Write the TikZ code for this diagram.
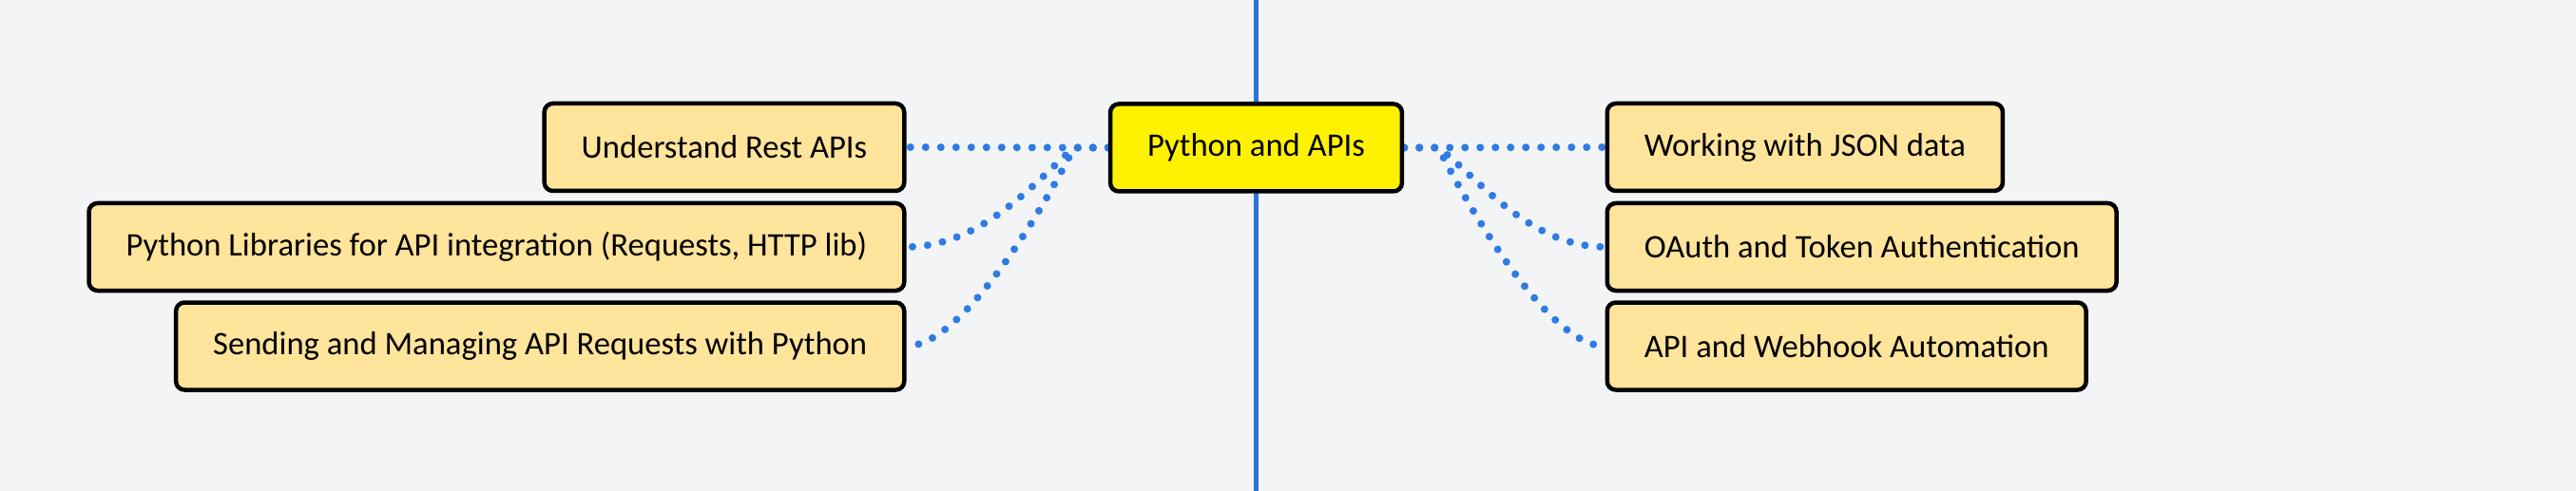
\documentclass[tikz,border=0pt]{standalone}
\usepackage{fontspec}
\setmainfont{Carlito}
\usetikzlibrary{positioning}
\usetikzlibrary{backgrounds}
\definecolor{bgcol}{HTML}{F3F4F6}
\definecolor{boxcol}{HTML}{FFE49B}
\definecolor{linkcol}{HTML}{2F7BE5}
\definecolor{axiscol}{HTML}{2E74D6}
\tikzstyle{topic}=[rectangle,rounded corners=0.09cm,draw=black,line width=0.045cm,fill=boxcol,minimum height=0.92cm,inner xsep=0.39cm,font=\fontsize{9.85pt}{12pt}\selectfont]
\tikzstyle{maintopic}=[topic,fill=yellow,minimum width=3.05cm]
\tikzstyle{link}=[draw,linkcol,line width=0.08cm,line cap=round,dash pattern=on 0pt off 0.16cm]
\tikzstyle{axis}=[draw,axiscol,line width=0.05cm]

\begin{document}
\begin{tikzpicture}
   \useasboundingbox (0,0) rectangle (27.10,-5.17);

   % vertical guide behind the main topic
   \coordinate (axistop) at (13.215,0);
   \coordinate (axisbot) at (13.215,-5.17);
   \path[axis] (axistop) -- (axisbot);

   \node[maintopic] (python) at (13.215,-1.555) {Python and APIs};

   \foreach \pos/\name/\label in {{(9.535,-1.55)/rest/{Understand Rest APIs}}, {(9.535,-2.60)/pylib/{Python Libraries for API integration (Requests, HTTP lib)}}, {(9.535,-3.645)/sending/{Sending and Managing API Requests with Python}}}
        \node[topic,anchor=east] (\name) at \pos {\label};

   \foreach \pos/\name/\label in {{(16.885,-1.55)/json/{Working with JSON data}}, {(16.885,-2.60)/oauth/{OAuth and Token Authentication}}, {(16.885,-3.645)/webhook/{API and Webhook Automation}}}
        \node[topic,anchor=west] (\name) at \pos {\label};

   % connect the topics to the centre
   \begin{scope}[on background layer]
   \fill[bgcol] (0,0) rectangle (27.10,-5.17);
   \path[link] (python.west) -- (rest.east);
   \path[link] (python.east) -- (json.west);
   \foreach \dest/\dx/\dy/\ex in {pylib/0.4/0.35/0.8, sending/0.3/0.6/0.6}
          \path[link] (python.west) -- ++(-0.36,0) .. controls +(-\dx,-\dy) and +(\ex,0) .. (\dest.east);
   \foreach \dest/\dx/\dy/\ex in {oauth/0.4/0.3/0.8, webhook/0.3/0.6/0.6}
          \path[link] (python.east) -- ++(0.36,0) .. controls +(\dx,-\dy) and +(-\ex,0) .. (\dest.west);
   \end{scope}
\end{tikzpicture}
\end{document}
